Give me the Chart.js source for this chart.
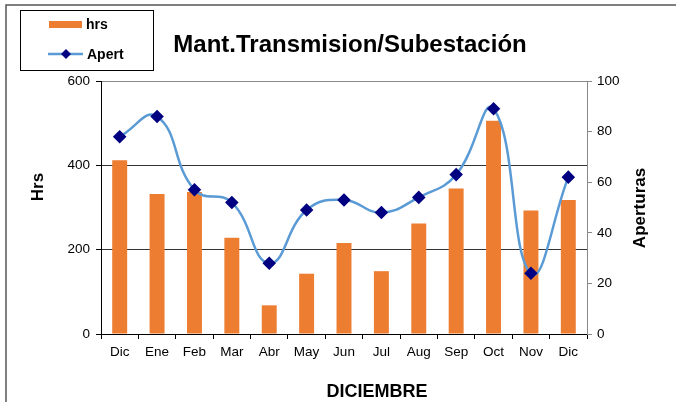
<!DOCTYPE html>
<html>
<head>
<meta charset="utf-8">
<script src="https://cdn.jsdelivr.net/npm/chart.js@4/dist/chart.umd.min.js"></script>
<style>
    body { margin: 0; background: #fff; }
    #wrap { width: 676px; height: 402px; }
</style>
</head>
<body>
<div id="wrap"><canvas id="mantChart"></canvas></div>
<script>
const months = ['Dic', 'Ene', 'Feb', 'Mar', 'Abr', 'May', 'Jun', 'Jul', 'Aug', 'Sep', 'Oct', 'Nov', 'Dic'];
const hrs = [412, 332, 337, 228, 68, 143, 216, 149, 262, 345, 506, 293, 318];
const apert = [78, 86, 57, 52, 28, 49, 53, 48, 54, 63, 89, 24, 62];
const hrsTicks = [0, 200, 400, 600];
const apertTicks = [0, 20, 40, 60, 80, 100];

const FONT = "'Liberation Sans', Arial, sans-serif";
const TICK_FONT = { family: FONT, size: 13.5 };

// outer frame (left and top edges only)
const framePlugin = {
    id: 'frame',
    beforeDraw(chart) {
        const ctx = chart.ctx;
        ctx.save();
        ctx.strokeStyle = '#555';
        ctx.lineWidth = 1.5;
        ctx.beginPath();
        ctx.moveTo(6, chart.height);
        ctx.lineTo(6, 5);
        ctx.lineTo(chart.width, 5);
        ctx.stroke();
        ctx.restore();
    }
};

// axis titles, both vertical ones read bottom-to-top
const axisTitles = {
    id: 'axisTitles',
    afterDraw(chart) {
        const ctx = chart.ctx;
        const area = chart.chartArea;
        ctx.save();
        ctx.fillStyle = '#000';
        ctx.textAlign = 'center';
        ctx.textBaseline = 'middle';

        ctx.font = 'bold 17px ' + FONT;
        ctx.save();
        ctx.translate(area.left - 63, area.top + 106);
        ctx.rotate(-Math.PI / 2);
        ctx.fillText('Hrs', 0, 0);
        ctx.restore();

        ctx.save();
        ctx.translate(area.right + 53, area.top + 127);
        ctx.rotate(-Math.PI / 2);
        ctx.fillText('Aperturas', 0, 0);
        ctx.restore();

        ctx.font = 'bold 18px ' + FONT;
        ctx.textBaseline = 'alphabetic';
        ctx.fillText('DICIEMBRE', 377, area.bottom + 63);
        ctx.restore();
    }
};

// boxed legend in the top-left corner
const boxLegend = {
    id: 'boxLegend',
    afterDraw(chart) {
        const ctx = chart.ctx;
        const ds = chart.data.datasets;
        ctx.save();
        ctx.fillStyle = '#fff';
        ctx.fillRect(20, 10, 133, 60);
        ctx.strokeStyle = '#000';
        ctx.lineWidth = 1;
        ctx.strokeRect(20.5, 10.5, 133, 60);

        ctx.font = 'bold 14px ' + FONT;
        ctx.textBaseline = 'middle';

        // bar entry
        ctx.fillStyle = ds[0].backgroundColor;
        ctx.fillRect(49, 21, 33, 7);
        ctx.fillStyle = '#000';
        ctx.fillText(ds[0].label, 86, 25);

        // line entry
        ctx.strokeStyle = ds[1].borderColor;
        ctx.lineWidth = 2.5;
        ctx.beginPath();
        ctx.moveTo(48, 54);
        ctx.lineTo(83, 54);
        ctx.stroke();
        ctx.fillStyle = ds[1].pointBackgroundColor;
        ctx.beginPath();
        ctx.moveTo(66, 49);
        ctx.lineTo(71, 54);
        ctx.lineTo(66, 59);
        ctx.lineTo(61, 54);
        ctx.closePath();
        ctx.fill();
        ctx.fillStyle = '#000';
        ctx.fillText(ds[1].label, 87, 55);
        ctx.restore();
    }
};

const ctx = document.getElementById('mantChart').getContext('2d');
new Chart(ctx, {
    data: {
        labels: months,
        datasets: [
            {
                type: 'bar',
                label: 'hrs',
                data: hrs,
                yAxisID: 'y',
                backgroundColor: '#ED7D31',
                barPercentage: 0.4,
                categoryPercentage: 1,
                order: 1
            },
            {
                type: 'line',
                label: 'Apert',
                data: apert,
                yAxisID: 'y1',
                borderColor: '#5B9BD5',
                borderWidth: 2.5,
                tension: 0.45,
                pointStyle: 'rectRot',
                pointRadius: 5,
                pointBackgroundColor: '#000080',
                pointBorderColor: '#000080',
                order: 0
            }
        ]
    },
    options: {
        responsive: true,
        maintainAspectRatio: false,
        animation: false,
        layout: {
            padding: { left: 24, right: 0, top: 0, bottom: 4 }
        },
        plugins: {
            legend: { display: false },
            tooltip: { enabled: false },
            title: {
                display: true,
                text: 'Mant.Transmision/Subestación',
                color: '#000',
                font: { family: FONT, size: 24, weight: 'bold' },
                padding: { top: 31, bottom: 21.2 }
            }
        },
        scales: {
            x: {
                grid: {
                    offset: true,
                    drawOnChartArea: false,
                    tickLength: 5,
                    tickColor: '#000'
                },
                border: { color: '#000' },
                ticks: {
                    color: '#000',
                    font: TICK_FONT,
                    padding: 5,
                    maxRotation: 0,
                    autoSkip: false
                },
                afterFit(scale) { scale.height = 64; }
            },
            y: {
                position: 'left',
                min: 0,
                max: 600,
                afterBuildTicks(scale) { scale.ticks = hrsTicks.map(v => ({ value: v })); },
                grid: {
                    color: c => c.tick && c.tick.value === 600 ? '#888' : '#333',
                    tickLength: 5,
                    tickColor: '#000'
                },
                border: { color: '#000' },
                ticks: {
                    color: '#000',
                    font: TICK_FONT,
                    padding: 6
                },
                afterFit(scale) { scale.width = 77; }
            },
            y1: {
                position: 'right',
                min: 0,
                max: 100,
                afterBuildTicks(scale) { scale.ticks = apertTicks.map(v => ({ value: v })); },
                grid: {
                    drawOnChartArea: false,
                    tickLength: 5,
                    tickColor: '#888'
                },
                border: { color: '#888' },
                ticks: {
                    color: '#000',
                    font: TICK_FONT,
                    padding: 5
                },
                afterFit(scale) { scale.width = 89; }
            }
        }
    },
    plugins: [framePlugin, axisTitles, boxLegend]
});
</script>
</body>
</html>
